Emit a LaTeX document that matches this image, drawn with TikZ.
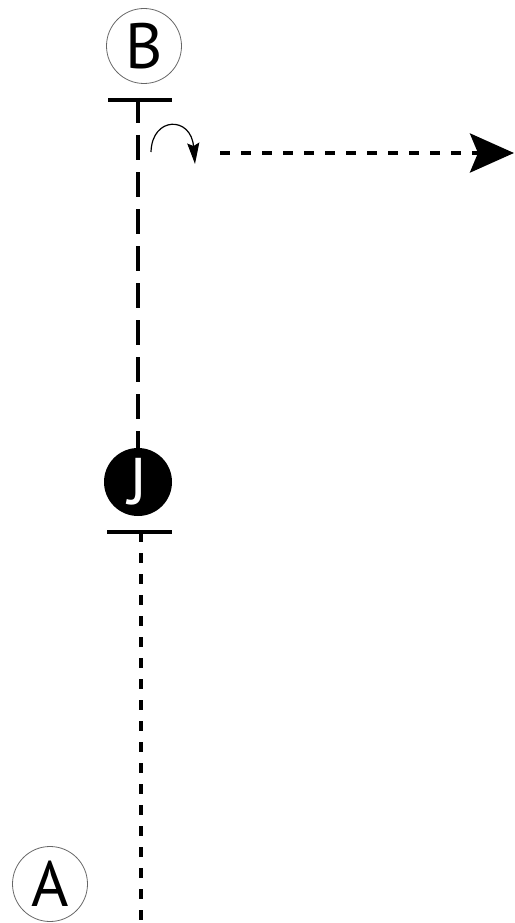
\documentclass[tikz,border=0pt]{standalone}
\usepackage{fontspec}
\setmainfont{PT Sans}
\usetikzlibrary{arrows.meta}
\begin{document}
\begin{tikzpicture}[x=1pt,y=-1pt,
  letter/.style={circle,minimum size=#1,inner sep=0pt,font=\fontsize{64}{64}\selectfont},
  openc/.style={letter=75pt,draw=black!60,line width=0.8pt},
  bar/.style={line width=4pt},
  longdash/.style={line width=4pt,dash pattern=on 25pt off 12pt},
  shortdash/.style={line width=4pt,dash pattern=on 10pt off 11pt}]
\useasboundingbox (0,0) rectangle (514,923);
\node[openc] (B) at (144,46) {B};
\node[openc] (A) at (50,884) {A};
\node[letter=68pt,fill=black,text=white,font=\fontsize{66}{66}\selectfont] (J) at (138,482) {J};
% bars
\coordinate (bBl) at (108,100); \coordinate (bBr) at (172,100); \coordinate (bBm) at (138,98);
\coordinate (bJl) at (107,532); \coordinate (bJr) at (172,532); \coordinate (bJm) at (141,530);
\coordinate (bot) at (141,923);
\draw[bar] (bBl) -- (bBr);
\draw[bar] (bJl) -- (bJr);
\draw[longdash] (bBm) -- (J.north);
\draw[shortdash,dash phase=-2pt] (bJm) -- (bot);
% horizontal arrow
\coordinate (hs) at (220,153); \coordinate (he) at (514,153);
\draw[shortdash,-{Stealth[length=44pt,width=39pt,inset=8pt]}] (hs) -- (he);
% curved arrow
\coordinate (cs) at (151,152); \coordinate (ce) at (195,164);
\draw[line width=1.2pt,-{Stealth[length=21pt,width=12pt,inset=3pt]}] (cs) .. controls (152,116) and (191,116) .. (ce);
\end{tikzpicture}
\end{document}
